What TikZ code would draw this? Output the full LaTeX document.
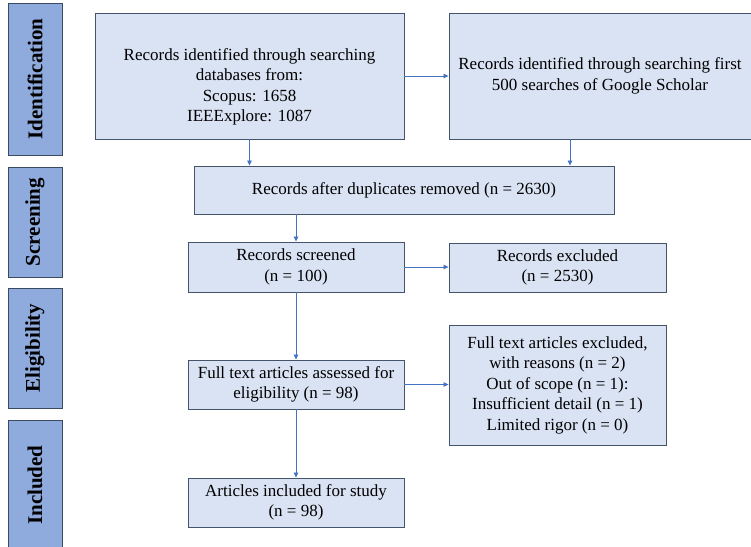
\documentclass[tikz,border=0pt]{standalone}
\usepackage{fontspec}
\setmainfont{Liberation Serif}
\usetikzlibrary{arrows.meta}
\definecolor{boxfill}{HTML}{DAE3F3}
\definecolor{boxline}{HTML}{44546A}
\definecolor{sidefill}{HTML}{8FAADC}
\definecolor{sideline}{HTML}{3A4A63}
\definecolor{arrowc}{HTML}{4472C4}
\begin{document}
\begin{tikzpicture}[x=1pt,y=-1pt,
  flowbox/.style={draw=boxline, fill=boxfill, line width=0.9pt, inner sep=0pt,
    align=center, font=\fontsize{17}{20.5}\selectfont},
  sidebox/.style={draw=sideline, fill=sidefill, line width=0.9pt, inner sep=0pt,
    minimum width=54pt},
  sidetext/.style={rotate=90, font=\fontsize{21}{24}\selectfont\bfseries},
  link/.style={draw=arrowc, line width=0.8pt, -{Triangle[length=5pt,width=4.5pt]}}]
\useasboundingbox (0,0) rectangle (751,546);

% stage labels
\node[sidebox, minimum height=152pt] (s1) at (35,79) {};
\node[sidetext] (t1) at (s1.center) {Identification};
\node[sidebox, minimum height=110pt] (s2) at (35,222) {};
\node[sidetext] (t2) at (s2.center) {Screening};
\node[sidebox, minimum height=120pt] (s3) at (35,348) {};
\node[sidetext] (t3) at (s3.center) {Eligibility};
\node[sidebox, minimum height=130pt] (s4) at (35,485) {};
\node[sidetext] (t4) at (s4.center) {Included};

% flow boxes
\node[flowbox, minimum width=309pt, minimum height=126pt] (b1) at (249.5,76)
  {\rule{0pt}{34pt}Records identified through searching\\ databases from:\\ Scopus: 1658\\ IEEExplore: 1087};
\node[flowbox, minimum width=302pt, minimum height=126pt] (b2) at (600,76)
  {Records identified through searching first\\ 500 searches of Google Scholar};
\node[flowbox, minimum width=420pt, minimum height=48pt] (b3) at (404,190)
  {Records after duplicates removed (n = 2630)};
\node[flowbox, minimum width=216pt, minimum height=50pt] (b4) at (296,267)
  {Records screened\\ (n = 100)};
\node[flowbox, minimum width=217pt, minimum height=49pt] (b5) at (557.5,267.5)
  {Records excluded\\ (n = 2530)};
\node[flowbox, minimum width=216pt, minimum height=49pt] (b6) at (296,384.5)
  {Full text articles assessed for\\ eligibility (n = 98)};
\node[flowbox, minimum width=217pt, minimum height=120pt] (b7) at (557.5,385)
  {Full text articles excluded,\\ with reasons (n = 2)\\ Out of scope (n = 1):\\ Insufficient detail (n = 1)\\ Limited rigor (n = 0)};
\node[flowbox, minimum width=216pt, minimum height=49pt] (b8) at (296,502.5)
  {Articles included for study\\ (n = 98)};

% connectors
\coordinate (c2) at ([xshift=-30pt]b2.south);
\draw[link] (b1.east) -- (b1.east -| b2.west);
\draw[link] (b1.south) -- (b1.south |- b3.north);
\draw[link] (c2) -- (c2 |- b3.north);
\draw[link] (b4.north |- b3.south) -- (b4.north);
\draw[link] (b4.east) -- (b4.east -| b5.west);
\draw[link] (b4.south) -- (b6.north);
\draw[link] (b6.east) -- (b6.east -| b7.west);
\draw[link] (b6.south) -- (b8.north);
\end{tikzpicture}
\end{document}
